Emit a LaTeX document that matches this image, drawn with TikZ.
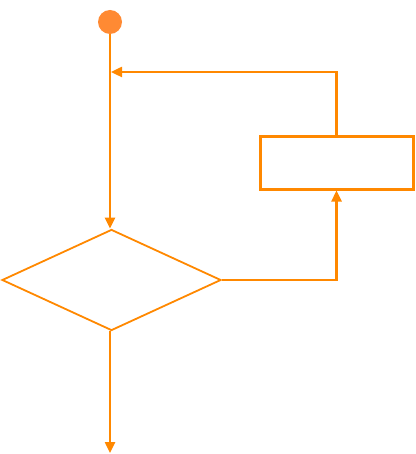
\documentclass[tikz,border=0pt]{standalone}
\usetikzlibrary{shapes.geometric,arrows.meta}
\definecolor{flow}{HTML}{FF8800}
\definecolor{dot}{HTML}{FF8A33}
\begin{document}
\begin{tikzpicture}[x=1pt,y=-1pt,>={Triangle[length=11pt,width=10pt]}]
  \useasboundingbox (0,0) rectangle (415,454);
  \node[circle,fill=dot,inner sep=0,minimum size=24pt](start) at(110,22) {};
  \node[draw=flow,diamond,line width=1.8pt,inner sep=0,minimum width=219pt,minimum height=101pt](cond) at(111.5,280) {};
  \node[draw=flow,rectangle,line width=3pt,inner sep=0,minimum width=153pt,minimum height=52pt](body) at(336.5,163) {};
  \coordinate(back) at(111,72);
  \coordinate(out) at(110,453);

  \draw[->,flow,line width=2.4pt](start)--(start|-cond.north);
  \draw[->,flow,line width=2.4pt](cond.east)-|(body.south);
  \draw[->,flow,line width=2.4pt](body.north)|-(back);
  \draw[->,flow,line width=2.4pt](out|-cond.south)--(out);
\end{tikzpicture}
\end{document}
